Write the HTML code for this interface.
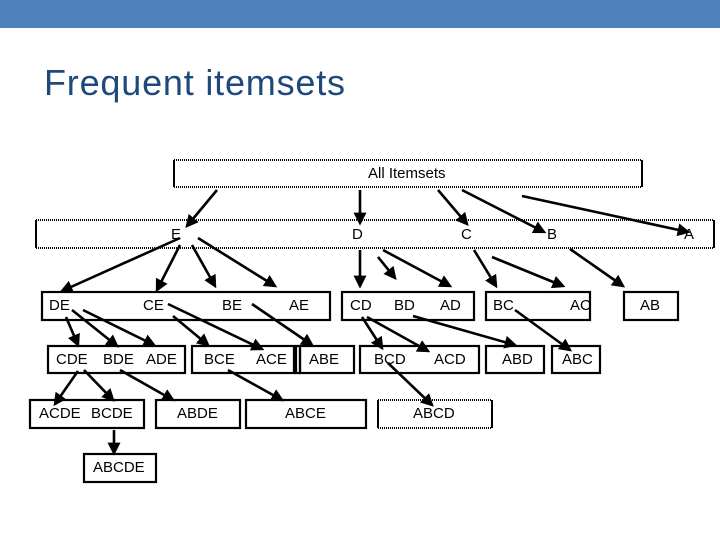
<!DOCTYPE html>
<html><head><meta charset="utf-8"><style>
html,body{margin:0;padding:0;background:#fff;}
svg{display:block;}
text{font-family:"Liberation Sans",Arial,sans-serif;}
</style></head><body>
<svg width="720" height="540" viewBox="0 0 720 540" xmlns="http://www.w3.org/2000/svg">
<defs>
<marker id="ah" markerWidth="5" markerHeight="5" refX="4" refY="2.5" orient="auto" markerUnits="strokeWidth">
<path d="M0,0 L5,2.5 L0,5 z" fill="#000"/>
</marker>
</defs>
<rect x="0" y="0" width="720" height="28" fill="#4f81bd"/>
<text x="44" y="95" font-size="36" fill="#1f497d" textLength="301">Frequent itemsets</text>

<g fill="none" stroke="#000">
<!-- dotted boxes -->
<g stroke-width="2">
<line x1="174" y1="160" x2="642" y2="160" stroke-dasharray="1,1"/>
<line x1="174" y1="187" x2="642" y2="187" stroke-dasharray="1,1"/>
<line x1="174" y1="160" x2="174" y2="187"/>
<line x1="642" y1="160" x2="642" y2="187"/>
<line x1="36" y1="220" x2="714" y2="220" stroke-dasharray="1,1"/>
<line x1="36" y1="248" x2="714" y2="248" stroke-dasharray="1,1"/>
<line x1="36" y1="220" x2="36" y2="248"/>
<line x1="714" y1="220" x2="714" y2="248"/>
<line x1="378" y1="400" x2="492" y2="400" stroke-dasharray="1,1"/>
<line x1="378" y1="428" x2="492" y2="428" stroke-dasharray="1,1"/>
<line x1="378" y1="400" x2="378" y2="428"/>
<line x1="492" y1="400" x2="492" y2="428"/>
</g>
<g stroke-width="2.2">
<rect x="42" y="292" width="288" height="28"/>
<rect x="342" y="292" width="132" height="28"/>
<rect x="486" y="292" width="104" height="28"/>
<rect x="624" y="292" width="54" height="28"/>
<rect x="48" y="346" width="137" height="27"/>
<rect x="192" y="346" width="102" height="27"/>
<rect x="296" y="346" width="4" height="27"/>
<rect x="300" y="346" width="54" height="27"/>
<rect x="360" y="346" width="119" height="27"/>
<rect x="486" y="346" width="58" height="27"/>
<rect x="552" y="346" width="48" height="27"/>
<rect x="30" y="400" width="114" height="28"/>
<rect x="156" y="400" width="84" height="28"/>
<rect x="246" y="400" width="120" height="28"/>
<rect x="84" y="454" width="72" height="28"/>
</g>
<g stroke-width="2.6" marker-end="url(#ah)">
<line x1="217" y1="190" x2="187" y2="226"/>
<line x1="360" y1="190" x2="360" y2="223"/>
<line x1="438" y1="190" x2="467" y2="224"/>
<line x1="462" y1="190" x2="544" y2="232"/>
<line x1="522" y1="196" x2="688" y2="232"/>
<line x1="180" y1="238" x2="62" y2="291"/>
<line x1="180" y1="245" x2="157" y2="290"/>
<line x1="192" y1="245" x2="215" y2="286"/>
<line x1="198" y1="238" x2="275" y2="286"/>
<line x1="360" y1="250" x2="360" y2="286"/>
<line x1="378" y1="257" x2="395" y2="278"/>
<line x1="383" y1="250" x2="450" y2="286"/>
<line x1="474" y1="250" x2="496" y2="286"/>
<line x1="492" y1="257" x2="563" y2="286"/>
<line x1="570" y1="249" x2="623" y2="286"/>
<line x1="66" y1="317" x2="78" y2="345"/>
<line x1="72" y1="310" x2="117" y2="346"/>
<line x1="83" y1="310" x2="154" y2="345"/>
<line x1="173" y1="316" x2="208" y2="345"/>
<line x1="168" y1="304" x2="262" y2="349"/>
<line x1="252" y1="304" x2="312" y2="345"/>
<line x1="362" y1="317" x2="382" y2="348"/>
<line x1="367" y1="317" x2="428" y2="351"/>
<line x1="413" y1="316" x2="515" y2="345"/>
<line x1="515" y1="310" x2="570" y2="350"/>
<line x1="78" y1="371" x2="55" y2="404"/>
<line x1="84" y1="370" x2="113" y2="400"/>
<line x1="120" y1="370" x2="173" y2="400"/>
<line x1="228" y1="370" x2="282" y2="400"/>
<line x1="388" y1="363" x2="432" y2="405"/>
<line x1="114" y1="430" x2="114" y2="453"/>
</g>
</g>

<g font-size="15" fill="#000">
<text x="368" y="178">All Itemsets</text>
<text x="171" y="239">E</text>
<text x="352" y="239">D</text>
<text x="461" y="239">C</text>
<text x="547" y="239">B</text>
<text x="684" y="239">A</text>
<text x="49" y="310">DE</text>
<text x="143" y="310">CE</text>
<text x="222" y="310">BE</text>
<text x="289" y="310">AE</text>
<text x="350" y="310">CD</text>
<text x="394" y="310">BD</text>
<text x="440" y="310">AD</text>
<text x="493" y="310">BC</text>
<text x="570" y="310">AC</text>
<text x="640" y="310">AB</text>
<text x="56" y="364">CDE</text>
<text x="103" y="364">BDE</text>
<text x="146" y="364">ADE</text>
<text x="204" y="364">BCE</text>
<text x="256" y="364">ACE</text>
<text x="309" y="364">ABE</text>
<text x="374" y="364">BCD</text>
<text x="434" y="364">ACD</text>
<text x="502" y="364">ABD</text>
<text x="562" y="364">ABC</text>
<text x="39" y="418">ACDE</text>
<text x="91" y="418">BCDE</text>
<text x="177" y="418">ABDE</text>
<text x="285" y="418">ABCE</text>
<text x="413" y="418">ABCD</text>
<text x="93" y="472">ABCDE</text>
</g>
</svg>
</body></html>
